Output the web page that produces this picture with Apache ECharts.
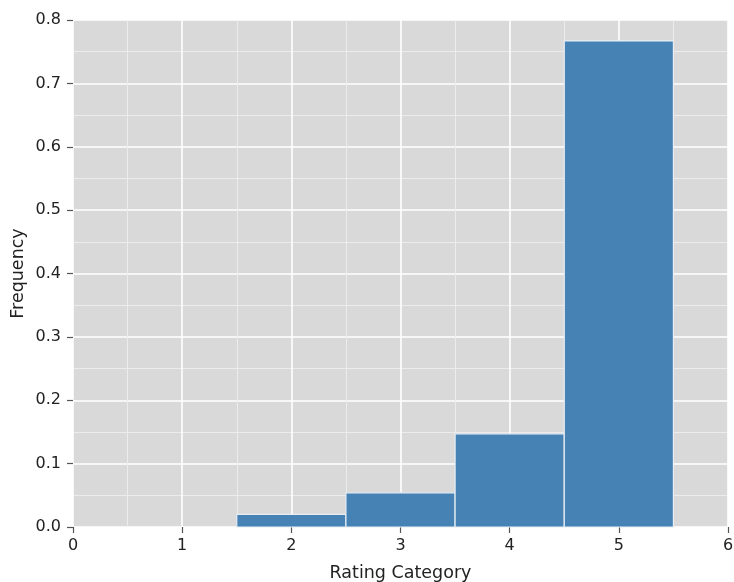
<!DOCTYPE html>
<html>
<head>
<meta charset="utf-8">
<script src="https://cdn.jsdelivr.net/npm/echarts@6/dist/echarts.min.js"></script>
<style>
  html, body { margin: 0; padding: 0; background: #fff; }
  #chart { width: 734px; height: 582px; }
</style>
</head>
<body>
<div id="chart"></div>
<script>
// Histogram of ratings: each bin spans [start, end) on the rating axis
const binStarts = [1.5, 2.5, 3.5, 4.5];
const binEnds = [2.5, 3.5, 4.5, 5.5];
const frequencies = [0.020, 0.054, 0.147, 0.767];

const xTicks = [0, 1, 2, 3, 4, 5, 6];
const yTicks = [0.0, 0.1, 0.2, 0.3, 0.4, 0.5, 0.6, 0.7, 0.8];

const binData = binStarts.map((s, i) => [s, binEnds[i], frequencies[i]]);

const font = 'DejaVu Sans';
const chart = echarts.init(document.getElementById('chart'));

chart.setOption({
  backgroundColor: '#ffffff',
  animation: false,
  grid: {
    left: 73, right: 6, top: 20, bottom: 55,
    outerBoundsMode: 'none',
    containLabel: false,
    show: true, backgroundColor: '#d9d9d9', borderWidth: 0
  },
  xAxis: {
    type: 'value',
    min: xTicks[0], max: xTicks[xTicks.length - 1], interval: 1,
    name: 'Rating Category', nameLocation: 'middle', nameGap: 37,
    nameTextStyle: { fontFamily: font, fontSize: 17.5, color: '#222' },
    axisLine: { show: false },
    axisTick: { show: true, length: 6, lineStyle: { color: '#555', width: 1.2 } },
    axisLabel: { fontFamily: font, fontSize: 16, color: '#222', margin: 11 },
    splitLine: { show: true, lineStyle: { color: '#ffffff', width: 1.6 } },
    minorTick: { show: false, splitNumber: 2 },
    minorSplitLine: { show: true, lineStyle: { color: '#ececec', width: 1 } }
  },
  yAxis: {
    type: 'value',
    min: yTicks[0], max: yTicks[yTicks.length - 1], interval: 0.1,
    name: 'Frequency', nameLocation: 'middle', nameGap: 46, nameRotate: 90,
    nameMoveOverlap: false,
    nameTextStyle: { fontFamily: font, fontSize: 17.5, color: '#222' },
    axisLine: { show: false },
    axisTick: { show: true, length: 6, lineStyle: { color: '#555', width: 1.2 } },
    axisLabel: {
      fontFamily: font, fontSize: 16, color: '#222', margin: 12,
      formatter: v => v.toFixed(1)
    },
    splitLine: { show: true, lineStyle: { color: '#ffffff', width: 1.6 } },
    minorTick: { show: false, splitNumber: 2 },
    minorSplitLine: { show: true, lineStyle: { color: '#ececec', width: 1 } }
  },
  series: [{
    type: 'custom',
    data: binData,
    encode: { x: [0, 1], y: 2 },
    renderItem: function (params, api) {
      const p0 = api.coord([api.value(0), 0]);
      const p1 = api.coord([api.value(1), api.value(2)]);
      return {
        type: 'rect',
        shape: { x: p0[0], y: p1[1], width: p1[0] - p0[0], height: p0[1] - p1[1] },
        style: { fill: '#4682b4', stroke: '#e8eef4', lineWidth: 1.2 }
      };
    }
  }]
});
</script>
</body>
</html>
